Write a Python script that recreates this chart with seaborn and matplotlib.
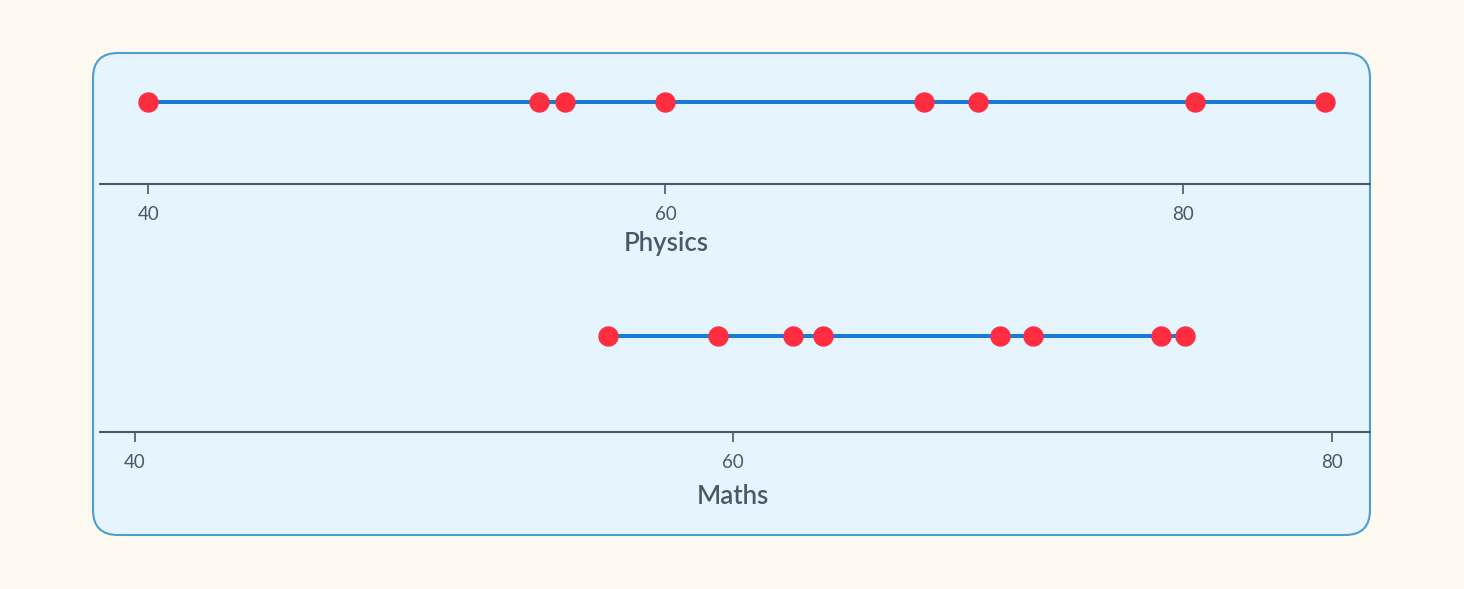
import numpy as np
import pandas as pd
import matplotlib.pyplot as plt
import seaborn as sns
from matplotlib.patches import FancyBboxPatch

# data
physics = [40, 55.1, 56.1, 60, 70, 72.1, 80.5, 85.5]
maths = [55.8, 59.5, 62, 63, 68.9, 70, 74.3, 75.1]
subjects = ["Physics", "Maths"]
ticks = [40, 60, 80]

sns.set_style("white")
plt.rcParams["font.family"] = ["Lato", "DejaVu Sans"]

bg = "#FEF9F1"
panel = "#E5F4FD"
edge = "#4A9FCC"
line_col = "#1A7AD6"
dot_col = "#FF2D40"
grey = "#4B5866"

W, H = 1464, 589
fig = plt.figure(figsize=(W / 100, H / 100), dpi=100, facecolor=bg)

# rounded panel behind both axes
box = FancyBboxPatch((93 / W, 1 - 535 / H), (1370 - 93) / W, (535 - 53) / H,
                     boxstyle="round,pad=0,rounding_size=%f" % (25 / W),
                     mutation_aspect=W / H, transform=fig.transFigure,
                     facecolor=panel, edgecolor=edge, linewidth=1.5, zorder=-5)
fig.patches.append(box)

# axes placement: [left, bottom, width, height], xlim, label position
layout = {
    "Physics": ([100 / W, 1 - 184 / H, 1270 / W, 164 / H], (38.13, 87.25), 0.446, -59 / 164),
    "Maths": ([100 / W, 1 - 432 / H, 1270 / W, 192 / H], (38.83, 81.28), 0.498, -65 / 192),
}

for name, vals in zip(subjects, [physics, maths]):
    rect, xlim, lx, ly = layout[name]
    ax = fig.add_axes(rect, zorder=2)
    ax.patch.set_alpha(0)
    df = pd.DataFrame({"score": vals, "row": np.zeros(len(vals))})

    sns.lineplot(data=df, x="score", y="row", color=line_col, linewidth=2.9, ax=ax, zorder=2)
    sns.scatterplot(data=df, x="score", y="row", color=dot_col, s=215, linewidth=0, ax=ax, zorder=3)

    ax.set_xlim(*xlim)
    ax.set_ylim(-1, 1)
    ax.set_yticks([])
    ax.set_ylabel("")
    ax.set_xticks(ticks)
    ax.tick_params(axis="x", direction="out", length=7, width=1.2, color=grey,
                   labelcolor=grey, labelsize=13.5, pad=8.5, bottom=True)
    for s in ["top", "left", "right"]:
        ax.spines[s].set_visible(False)
    ax.spines["bottom"].set_color(grey)
    ax.spines["bottom"].set_linewidth(1.5)

    ax.set_xlabel(name, fontsize=18.5, color=grey, fontweight="semibold")
    ax.xaxis.label.set_va("center")
    ax.xaxis.set_label_coords(lx, ly)

plt.savefig("out.png", dpi=100, facecolor=bg)
